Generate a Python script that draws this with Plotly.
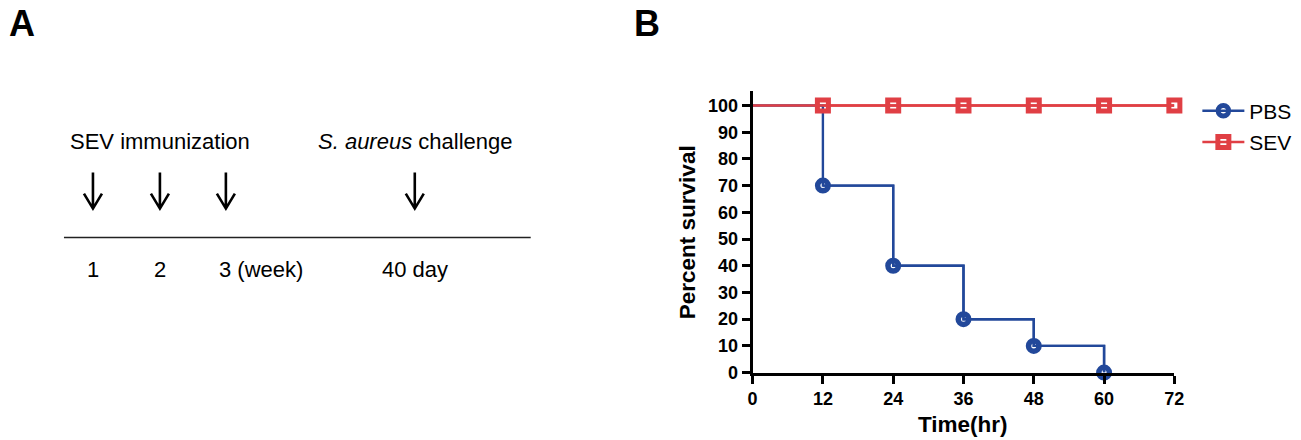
import plotly.graph_objects as go

# ---------------- data ----------------
time_hr = [0, 12, 24, 36, 48, 60, 72]
pbs_survival = [100, 70, 40, 20, 10, 0]
sev_survival = [100, 100, 100, 100, 100, 100, 100]
x_ticks = [0, 12, 24, 36, 48, 60, 72]
y_ticks = [0, 10, 20, 30, 40, 50, 60, 70, 80, 90, 100]

timeline_labels = ["1", "2", "3 (week)", "40 day"]
event_labels = ["SEV immunization", "<i>S. aureus</i> challenge"]

# ---------------- layout helpers (reference pixel -> paper) ----------------
W, H = 1301, 440
SX, OX = 0.989, 4.0
SY, OY = 0.977, -0.5
def px(x):
    return ((x - OX) / SX) / W
def py(y):
    return 1 - ((y - OY) / SY) / H

BLUE = "#22489A"
RED = "#E03F44"
FONT = "Liberation Sans, Arial, Helvetica, sans-serif"

fig = go.Figure()

# PBS: step line from 0, markers at event times
fig.add_trace(go.Scatter(
    x=time_hr[:len(pbs_survival)], y=pbs_survival, mode="lines",
    line=dict(color=BLUE, width=2.4, shape="hv"),
    showlegend=False, hoverinfo="skip", cliponaxis=False, legendgroup="pbs"))
fig.add_trace(go.Scatter(
    x=time_hr[1:len(pbs_survival)], y=pbs_survival[1:], mode="lines+markers", name="PBS",
    line=dict(color=BLUE, width=2.4, shape="hv"),
    marker=dict(symbol="circle", size=10.5, color="rgba(0,0,0,0)",
                line=dict(color=BLUE, width=5.5)),
    cliponaxis=False, legendgroup="pbs"))

# SEV
fig.add_trace(go.Scatter(
    x=time_hr, y=sev_survival, mode="lines",
    line=dict(color=RED, width=2.4, shape="hv"),
    showlegend=False, hoverinfo="skip", cliponaxis=False, legendgroup="sev"))
fig.add_trace(go.Scatter(
    x=time_hr[1:], y=sev_survival[1:], mode="lines+markers", name="SEV",
    line=dict(color=RED, width=2.4, shape="hv"),
    marker=dict(symbol="square", size=11, color="rgba(0,0,0,0)",
                line=dict(color=RED, width=5)),
    cliponaxis=False, legendgroup="sev"))

axis_common = dict(
    showline=True, linecolor="black", linewidth=3, mirror=False,
    ticks="outside", ticklen=8, tickwidth=3, tickcolor="black",
    showgrid=False, zeroline=False,
    tickfont=dict(family=FONT, size=18, color="black", weight="bold"),
)

fig.update_layout(
    width=W, height=H,
    margin=dict(l=0, r=0, t=0, b=0),
    paper_bgcolor="white", plot_bgcolor="white",
    font=dict(family=FONT, color="black"),
    xaxis=dict(domain=[px(752), px(1174)], range=[0, 72], tickvals=x_ticks,
               anchor="y", **axis_common),
    yaxis=dict(domain=[py(372), py(90)], range=[0, 105.6], tickvals=y_ticks,
               anchor="x", **axis_common),
    legend=dict(x=px(1197), y=py(90), xanchor="left", yanchor="top",
                font=dict(family=FONT, size=21, color="black"),
                itemwidth=42,
                tracegroupgap=1, traceorder="grouped", bgcolor="rgba(0,0,0,0)"),
    showlegend=True,
)

annotations = []
# axis titles
annotations.append(dict(text="<b>Time(hr)</b>", x=px(963), y=py(424), xref="paper", yref="paper",
                        xanchor="center", yanchor="middle", showarrow=False,
                        font=dict(family=FONT, size=22.5, color="black")))
annotations.append(dict(text="<b>Percent survival</b>", x=px(687), y=py(232), xref="paper", yref="paper",
                        xanchor="center", yanchor="middle", showarrow=False, textangle=-90,
                        font=dict(family=FONT, size=22.5, color="black")))
# panel letters
annotations.append(dict(text="<b>A</b>", x=px(6), y=py(23), xref="paper", yref="paper",
                        xanchor="left", yanchor="middle", showarrow=False,
                        font=dict(family=FONT, size=36, color="black")))
annotations.append(dict(text="<b>B</b>", x=px(631), y=py(23), xref="paper", yref="paper",
                        xanchor="left", yanchor="middle", showarrow=False,
                        font=dict(family=FONT, size=36, color="black")))

# panel A schematic
arrow_x = [92, 159, 225, 414]
label_anchor = [("center", 92), ("center", 159), ("left", 216), ("center", 414)]
for txt, (anc, lx) in zip(timeline_labels, label_anchor):
    annotations.append(dict(text=txt, x=px(lx), y=py(269), xref="paper", yref="paper",
                            xanchor=anc, yanchor="middle", showarrow=False,
                            font=dict(family=FONT, size=22, color="black")))
annotations.append(dict(text=event_labels[0], x=px(159), y=py(141), xref="paper", yref="paper",
                        xanchor="center", yanchor="middle", showarrow=False,
                        font=dict(family=FONT, size=22, color="black")))
annotations.append(dict(text=event_labels[1], x=px(414), y=py(141), xref="paper", yref="paper",
                        xanchor="center", yanchor="middle", showarrow=False,
                        font=dict(family=FONT, size=22, color="black")))

shapes = []
shapes.append(dict(type="line", xref="paper", yref="paper",
                   x0=px(63), x1=px(530), y0=py(237), y1=py(237),
                   line=dict(color="#222222", width=1.6)))
for ax in arrow_x:
    top, tip = 172, 208
    path = (f"M {px(ax)} {py(top)} L {px(ax)} {py(tip)} "
            f"M {px(ax-9)} {py(tip-15)} L {px(ax)} {py(tip)} L {px(ax+9)} {py(tip-15)}")
    shapes.append(dict(type="path", xref="paper", yref="paper", path=path,
                       line=dict(color="black", width=2.6)))

fig.update_layout(annotations=annotations, shapes=shapes)

fig.write_html(
    "out.html",
    config={"displayModeBar": False, "responsive": False},
    post_script=(
        "document.documentElement.style.margin='0';"
        "document.documentElement.style.overflow='hidden';"
        "document.body.style.margin='0';document.body.style.padding='0';"
        "document.body.style.overflow='hidden';"
    ),
)
